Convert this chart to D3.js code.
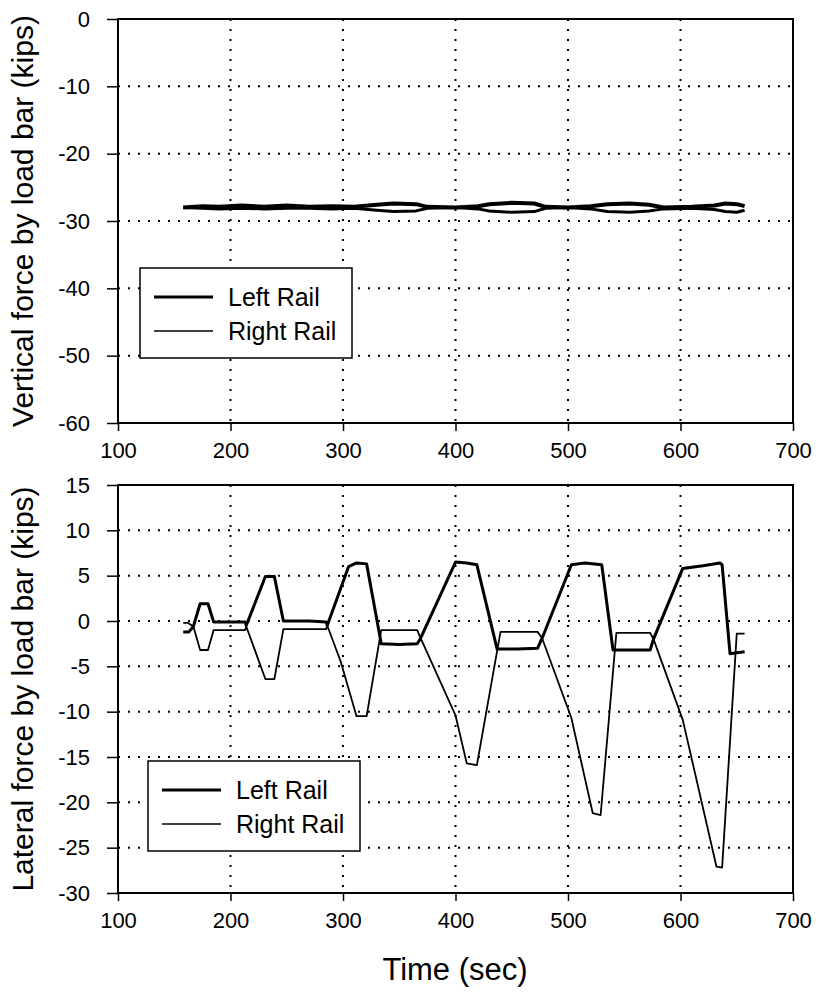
<!DOCTYPE html>
<html>
<head>
<meta charset="utf-8">
<script src="https://d3js.org/d3.v7.min.js"></script>
<style>
  body { margin: 0; background: #fff; }
  text { font-family: "Liberation Sans", Arial, sans-serif; fill: #000; }
</style>
</head>
<body>
<div id="chart"></div>
<script>
// x ticks shared by both panels
var timeTicks = [100, 200, 300, 400, 500, 600, 700];
var verticalTicks = [0, -10, -20, -30, -40, -50, -60];
var lateralTicks = [15, 10, 5, 0, -5, -10, -15, -20, -25, -30];
var seriesNames = ["Left Rail", "Right Rail"];

// vertical force [time, kips]
var verticalLeft = [[158,-28.0],[175,-27.8],[190,-27.9],[210,-27.7],[230,-27.9],[250,-27.7],[270,-27.9],
  [290,-27.8],[310,-27.9],[330,-27.6],[345,-27.4],[365,-27.5],[375,-27.9],[400,-28.0],[420,-27.8],
  [430,-27.5],[450,-27.3],[470,-27.4],[480,-27.9],[500,-28.0],[520,-27.8],[535,-27.5],[555,-27.4],
  [572,-27.6],[585,-28.0],[610,-27.9],[630,-27.7],[640,-27.4],[650,-27.5],[657,-27.8]];
var verticalRight = [[158,-28.0],[175,-28.1],[190,-28.2],[210,-28.1],[230,-28.2],[250,-28.1],[270,-28.1],
  [290,-28.2],[310,-28.1],[330,-28.4],[345,-28.6],[365,-28.5],[375,-28.1],[400,-28.0],[420,-28.2],
  [430,-28.5],[450,-28.7],[470,-28.6],[480,-28.1],[500,-28.0],[520,-28.2],[535,-28.6],[555,-28.7],
  [572,-28.5],[585,-28.2],[610,-28.1],[630,-28.3],[640,-28.6],[650,-28.7],[657,-28.4]];

// lateral force [time, kips]
var lateralLeft = [[158,-1.2],[163,-1.2],[167,-0.6],[173,1.9],[180,1.9],[185,-0.1],[200,-0.1],[213,-0.1],
  [214,-0.5],[231,4.9],[239,4.9],[247,0.0],[270,0.0],[285,-0.1],[286,-0.5],[305,6.0],[312,6.4],[321,6.3],
  [334,-2.5],[350,-2.6],[366,-2.5],[369,-1.9],[400,6.5],[410,6.4],[419,6.2],[437,-3.1],[455,-3.1],
  [473,-3.0],[477,-1.9],[503,6.2],[515,6.4],[530,6.2],[540,-3.2],[556,-3.2],[573,-3.2],[576,-2.0],
  [602,5.8],[620,6.1],[635,6.4],[637,6.2],[644,-3.6],[650,-3.5],[657,-3.4]];
var lateralRight = [[158,-0.2],[162,-0.2],[167,-0.6],[173,-3.2],[180,-3.2],[185,-1.0],[200,-1.0],[213,-1.0],
  [214,-0.6],[231,-6.4],[239,-6.4],[247,-0.9],[270,-0.9],[285,-0.9],[286,-0.5],[298,-4.5],[312,-10.5],
  [321,-10.5],[334,-1.0],[350,-1.0],[366,-1.0],[369,-1.9],[400,-10.4],[410,-15.7],[419,-15.9],[440,-1.2],
  [455,-1.2],[473,-1.2],[477,-1.9],[503,-10.7],[522,-21.2],[529,-21.4],[543,-1.3],[560,-1.3],[573,-1.3],
  [576,-2.0],[602,-10.9],[632,-27.1],[637,-27.2],[650,-1.4],[657,-1.4]];

var svg = d3.select("#chart").append("svg")
    .attr("width", 822)
    .attr("height", 1001);

// one panel = frame, grid, ticks, two lines, legend
function drawPanel(opt) {
  var x = d3.scaleLinear().domain([100, 700]).range([118, 793]);
  var y = d3.scaleLinear().domain(opt.yDomain).range([opt.bottom, opt.top]);

  var g = svg.append("g");

  // dotted grid
  g.selectAll(".vgrid").data(timeTicks.slice(1, -1)).enter().append("line")
    .attr("x1", d => x(d)).attr("x2", d => x(d))
    .attr("y1", opt.top).attr("y2", opt.bottom)
    .attr("stroke", "#000").attr("stroke-width", 2).attr("stroke-dasharray", "2,8");
  g.selectAll(".hgrid").data(opt.yTicks.slice(1, -1)).enter().append("line")
    .attr("x1", 118).attr("x2", 793)
    .attr("y1", d => y(d)).attr("y2", d => y(d))
    .attr("stroke", "#000").attr("stroke-width", 2).attr("stroke-dasharray", "2,8");

  // axes (plain hyphen for negatives, like the original)
  var fmt = d => String(d);
  var xAxis = g.append("g")
    .attr("transform", "translate(0," + opt.bottom + ")")
    .call(d3.axisBottom(x).tickValues(timeTicks).tickFormat(fmt).tickSize(8).tickSizeOuter(0).tickPadding(6));
  var yAxis = g.append("g")
    .attr("transform", "translate(118,0)")
    .call(d3.axisLeft(y).tickValues(opt.yTicks).tickFormat(fmt).tickSize(11).tickSizeOuter(0).tickPadding(17));
  [xAxis, yAxis].forEach(function(a) {
    a.select(".domain").remove();
    a.selectAll("line").attr("stroke", "#000").attr("stroke-width", 1.5);
    a.selectAll("text").style("font-size", "22px").style("font-family", "Liberation Sans, Arial, sans-serif");
  });
  xAxis.selectAll("text").attr("dy", "0.95em");

  // frame
  g.append("rect")
    .attr("x", 118).attr("y", opt.top)
    .attr("width", 675).attr("height", opt.bottom - opt.top)
    .attr("fill", "none").attr("stroke", "#000").attr("stroke-width", 2);

  var line = d3.line().x(d => x(d[0])).y(d => y(d[1]));
  g.append("path").datum(opt.right).attr("d", line)
    .attr("fill", "none").attr("stroke", "#000").attr("stroke-width", opt.thin).attr("stroke-linejoin", "round");
  g.append("path").datum(opt.left).attr("d", line)
    .attr("fill", "none").attr("stroke", "#000").attr("stroke-width", opt.thick).attr("stroke-linejoin", "round");

  // y title
  g.append("text")
    .attr("transform", "translate(33," + ((opt.top + opt.bottom) / 2) + ") rotate(-90)")
    .attr("text-anchor", "middle")
    .style("font-size", "30px")
    .text(opt.title);

  // legend
  var lg = g.append("g").attr("transform", "translate(" + opt.legend[0] + "," + opt.legend[1] + ")");
  lg.append("rect").attr("width", 212).attr("height", 90)
    .attr("fill", "#fff").attr("stroke", "#000").attr("stroke-width", 1.5);
  seriesNames.forEach(function(name, i) {
    var cy = 29 + i * 34;
    lg.append("line").attr("x1", 14).attr("x2", 73).attr("y1", cy).attr("y2", cy)
      .attr("stroke", "#000").attr("stroke-width", i == 0 ? 3 : 1.5);
    lg.append("text").attr("x", 88).attr("y", cy + 9)
      .style("font-size", "25px").text(name);
  });
}

drawPanel({
  top: 19, bottom: 423, yDomain: [-60, 0], yTicks: verticalTicks,
  left: verticalLeft, right: verticalRight, thick: 4, thin: 3,
  title: "Vertical force by load bar (kips)", legend: [140, 268]
});

drawPanel({
  top: 485, bottom: 893, yDomain: [-30, 15], yTicks: lateralTicks,
  left: lateralLeft, right: lateralRight, thick: 3, thin: 1.8,
  title: "Lateral force by load bar (kips)", legend: [148, 761]
});

// x title
svg.append("text")
  .attr("x", 455).attr("y", 980)
  .attr("text-anchor", "middle")
  .style("font-size", "31px")
  .text("Time (sec)");
</script>
</body>
</html>
